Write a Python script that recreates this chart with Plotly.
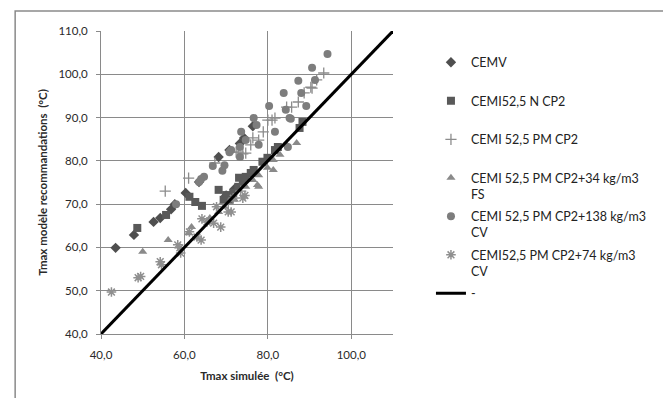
import plotly.graph_objects as go

# ---- data ----
cemv_x = [43.5, 47.9, 52.6, 54.2, 56.8, 57.7, 60.3, 63.5, 68.2, 70.8, 73.3, 74.3, 76.4, 70.0, 72.0]
cemv_y = [59.9, 62.9, 65.9, 66.8, 68.8, 70.0, 72.6, 75.1, 80.9, 82.5, 84.0, 85.3, 88.0, 72.0, 73.5]

ncp2_x = [48.7, 55.6, 61.2, 62.6, 64.2, 68.2, 69.4, 70.0, 70.8, 71.7, 72.9, 74.0, 73.1, 74.7, 75.9,
          76.6, 78.7, 79.9, 81.7, 82.4, 87.6, 88.3]
ncp2_y = [64.5, 67.5, 71.7, 70.5, 69.6, 73.3, 71.0, 72.1, 71.0, 72.6, 74.0, 74.9, 76.1, 76.3, 77.2,
          77.9, 79.8, 80.7, 82.5, 83.2, 87.6, 89.0]

pm_x = [55.4, 61.0, 67.3, 72.4, 74.0, 72.9, 74.7, 75.9, 76.4, 77.8, 78.9, 80.0, 81.0, 81.7, 84.5,
        85.7, 87.3, 88.7, 90.3, 90.6, 91.7, 93.4, 70.5, 73.5]
pm_y = [73.0, 76.0, 79.5, 82.0, 81.6, 82.0, 81.8, 83.7, 85.3, 84.8, 86.7, 89.4, 89.4, 89.9, 92.4,
        92.4, 93.6, 95.7, 97.0, 96.8, 98.7, 100.3, 70.0, 73.0]

fs_x = [50.0, 56.1, 61.0, 61.7, 66.1, 68.2, 69.5, 74.7, 76.4, 77.5, 77.8, 77.8, 79.9, 81.3, 81.3,
        82.9, 84.5, 86.9, 72.0]
fs_y = [59.0, 61.7, 63.3, 64.7, 66.8, 68.2, 69.4, 74.0, 75.6, 74.4, 76.7, 74.0, 78.4, 77.9, 80.2,
        81.4, 83.7, 84.1, 71.0]

cv138_x = [64.7, 63.5, 64.0, 66.8, 69.1, 69.6, 70.8, 71.2, 73.3, 73.3, 73.6, 74.7, 76.6, 77.3, 77.8,
           80.3, 81.7, 83.8, 84.3, 84.8, 85.2, 85.5, 87.3, 88.0, 89.2, 90.6, 91.3, 94.3, 58.0]
cv138_y = [76.3, 75.1, 75.8, 78.8, 77.7, 79.0, 82.0, 82.5, 80.9, 83.2, 86.7, 84.8, 89.9, 88.3, 83.7,
           92.7, 86.7, 95.7, 91.8, 83.2, 89.9, 89.7, 98.5, 95.7, 92.7, 101.5, 98.7, 104.7, 70.0]

cv74_x = [42.5, 48.9, 49.5, 54.2, 54.5, 58.4, 58.9, 59.1, 61.2, 63.0, 64.0, 64.2, 65.4, 67.0, 68.7,
          67.7, 70.5, 71.2, 71.7, 74.0, 74.5]
cv74_y = [49.7, 53.0, 53.3, 56.7, 56.0, 60.6, 59.9, 58.7, 63.6, 62.4, 61.7, 66.6, 65.9, 65.6, 64.7,
          69.4, 68.2, 68.2, 71.4, 71.4, 72.0]

line_x = [40, 110]
line_y = [40, 110]

x_ticks = [40, 60, 80, 100]
y_ticks = [40, 50, 60, 70, 80, 90, 100, 110]

FONT = "Lato"

fig = go.Figure()

def add(name, xs, ys, symbol, color, size, lw=0, group="g"):
    fig.add_trace(go.Scatter(
        x=xs, y=ys, mode="markers", name=name, legendgroup=group,
        marker=dict(symbol=symbol, color=color, size=size,
                    line=dict(color=color, width=lw)),
    ))

add("CEMV<br>&nbsp;", cemv_x, cemv_y, "diamond", "#4f4f4f", 8, group="a")
add("CEMI52,5 N CP2<br>&nbsp;", ncp2_x, ncp2_y, "square", "#595959", 8, group="b")
add("CEMI 52,5 PM CP2<br>&nbsp;", pm_x, pm_y, "cross-thin", "#8c8c8c", 8, lw=1.3, group="c")
add("CEMI 52,5 PM CP2+34 kg/m3<br>FS", fs_x, fs_y, "triangle-up", "#8a8a8a", 8, group="d")
add("CEMI 52,5 PM CP2+138 kg/m3<br>CV", cv138_x, cv138_y, "circle", "#7d7d7d", 8, group="e")
add("CEMI52,5 PM CP2+74 kg/m3<br>CV", cv74_x, cv74_y, "asterisk-open", "#8f8f8f", 8, lw=1.5, group="f")

fig.add_trace(go.Scatter(
    x=line_x, y=line_y, mode="lines", name="-<br>&nbsp;", legendgroup="h",
    line=dict(color="#000000", width=3),
))

axis_common = dict(
    showgrid=True, gridcolor="#8a8a8a", gridwidth=1,
    showline=True, linecolor="#8a8a8a", linewidth=1,
    ticks="outside", ticklen=4, tickcolor="#8a8a8a",
    ticklabelstandoff=6,
    tickformat=".1f", zeroline=False,
    tickfont=dict(family=FONT, size=11.5, color="#2a2a2a"),
)

fig.update_xaxes(range=[40, 110], tickvals=x_ticks, **axis_common,
                 title=dict(text="<b>Tmax simulée  (°C)</b>",
                            font=dict(family=FONT, size=11.5, color="#2a2a2a"), standoff=12))
fig.update_yaxes(range=[40, 110], tickvals=y_ticks, **axis_common,
                 title=dict(text="<b>Tmax modèle recommandations  (°C)</b>",
                            font=dict(family=FONT, size=11.5, color="#2a2a2a"), standoff=8))

fig.add_shape(type="rect", xref="paper", yref="paper",
              x0=-0.294, y0=-0.30, x1=2.0, y1=1.066,
              line=dict(color="#8a8a8a", width=1.5), fillcolor="rgba(0,0,0,0)", layer="below")

fig.update_layout(
    width=663, height=398,
    margin=dict(l=101, r=263, t=31, b=64),
    paper_bgcolor="white", plot_bgcolor="white",
    separators=", ",
    showlegend=True,
    legend=dict(x=1.13, y=0.945, xanchor="left", yanchor="top",
                valign="top", tracegroupgap=3,
                font=dict(family=FONT, size=12.5, color="#222222"),
                bgcolor="rgba(0,0,0,0)", itemwidth=30),
)

fig.write_html(
    "out.html",
    config={"displayModeBar": False},
    post_script="document.body.style.margin='0px';document.body.style.overflow='hidden';",
)
